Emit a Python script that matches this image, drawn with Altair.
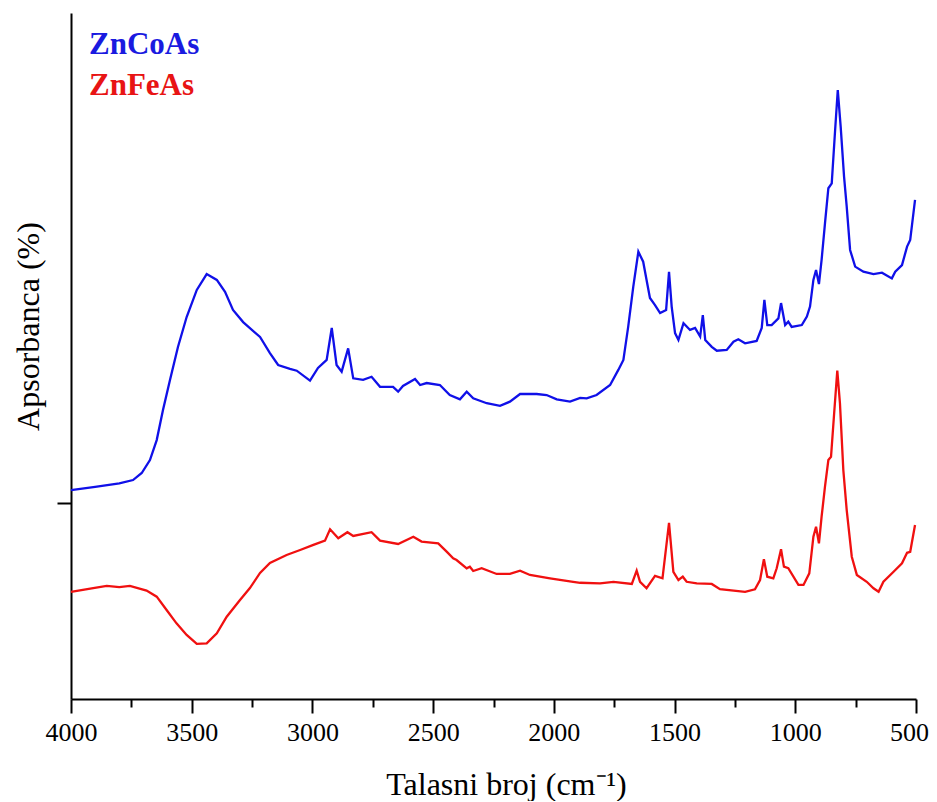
import altair as alt
import pandas as pd

# ZnCoAs spectrum (wavenumber, absorbance in arbitrary units)
wn_co = [4000, 3900, 3800, 3743, 3707, 3673, 3645, 3619, 3590, 3557, 3521, 3479, 3438, 3396,
         3362, 3329, 3287, 3217, 3176, 3142, 3093, 3065, 3010, 2977, 2941, 2920, 2900, 2879,
         2852, 2831, 2790, 2755, 2720, 2666, 2645, 2625, 2575, 2554, 2527, 2472, 2431, 2389,
         2361, 2334, 2278, 2223, 2182, 2140, 2071, 2030, 1988, 1933, 1891, 1864, 1823, 1767,
         1733, 1712, 1692, 1671, 1650, 1630, 1616, 1602, 1581, 1560, 1535, 1523, 1512, 1498,
         1484, 1463, 1436, 1415, 1394, 1383, 1373, 1346, 1325, 1284, 1256, 1236, 1208, 1160,
         1139, 1128, 1116, 1098, 1070, 1059, 1042, 1029, 1015, 973, 952, 939, 925, 914, 902,
         891, 877, 863, 849, 835, 824, 812, 798, 787, 773, 752, 718, 676, 641, 600, 586, 558,
         537, 524, 504]
ab_co = [1.066, 1.082, 1.100, 1.117, 1.153, 1.219, 1.321, 1.474, 1.628, 1.796, 1.949, 2.087,
         2.168, 2.138, 2.077, 1.985, 1.923, 1.847, 1.765, 1.704, 1.684, 1.675, 1.624, 1.689,
         1.730, 1.893, 1.704, 1.670, 1.789, 1.636, 1.628, 1.644, 1.593, 1.592, 1.568, 1.597,
         1.633, 1.602, 1.612, 1.602, 1.551, 1.529, 1.568, 1.534, 1.509, 1.496, 1.517, 1.556,
         1.556, 1.551, 1.529, 1.517, 1.536, 1.534, 1.551, 1.602, 1.679, 1.730, 1.900, 2.104,
         2.282, 2.231, 2.138, 2.046, 2.010, 1.969, 1.985, 2.180, 2.002, 1.867, 1.832, 1.917,
         1.883, 1.893, 1.849, 1.959, 1.832, 1.797, 1.777, 1.781, 1.823, 1.835, 1.815, 1.827,
         1.893, 2.036, 1.908, 1.908, 1.942, 2.020, 1.908, 1.925, 1.898, 1.908, 1.951, 2.002,
         2.138, 2.189, 2.117, 2.240, 2.427, 2.606, 2.631, 2.903, 3.107, 2.920, 2.665, 2.512,
         2.291, 2.206, 2.180, 2.168, 2.175, 2.146, 2.180, 2.214, 2.308, 2.342, 2.546]

# ZnFeAs spectrum
wn_fe = [4000, 3908, 3852, 3800, 3756, 3687, 3645, 3604, 3563, 3521, 3479, 3438, 3396, 3355,
         3300, 3259, 3217, 3176, 3107, 3051, 2996, 2948, 2927, 2893, 2855, 2831, 2755, 2720,
         2645, 2582, 2548, 2479, 2444, 2417, 2403, 2361, 2348, 2334, 2299, 2237, 2182, 2140,
         2099, 2016, 1920, 1891, 1809, 1753, 1677, 1657, 1643, 1616, 1581, 1550, 1523, 1505,
         1484, 1466, 1450, 1408, 1346, 1312, 1208, 1167, 1146, 1130, 1116, 1091, 1077, 1059,
         1047, 1029, 987, 966, 942, 925, 914, 902, 891, 877, 863, 852, 839, 826, 815, 801, 787,
         766, 745, 704, 676, 655, 635, 593, 558, 537, 524, 504]
ab_fe = [0.547, 0.566, 0.577, 0.571, 0.577, 0.553, 0.522, 0.454, 0.386, 0.327, 0.281, 0.284,
         0.335, 0.420, 0.505, 0.566, 0.643, 0.694, 0.735, 0.760, 0.786, 0.808, 0.866, 0.820,
         0.851, 0.832, 0.851, 0.808, 0.791, 0.828, 0.803, 0.794, 0.752, 0.718, 0.709, 0.667,
         0.675, 0.653, 0.667, 0.638, 0.638, 0.655, 0.633, 0.616, 0.598, 0.593, 0.590, 0.598,
         0.587, 0.655, 0.598, 0.565, 0.628, 0.616, 0.899, 0.649, 0.607, 0.624, 0.598, 0.590,
         0.587, 0.560, 0.547, 0.560, 0.607, 0.713, 0.624, 0.616, 0.667, 0.764, 0.675, 0.667,
         0.582, 0.582, 0.641, 0.828, 0.879, 0.794, 0.930, 1.083, 1.219, 1.236, 1.458, 1.675,
         1.509, 1.168, 0.964, 0.726, 0.633, 0.598, 0.565, 0.547, 0.598, 0.649, 0.692, 0.746,
         0.751, 0.888]

series_names = ["ZnCoAs", "ZnFeAs"]
series_colors = ["#1010e8", "#f01010"]
x_ticks = list(range(500, 4001, 250))
y_ticks = [1.0]

df = pd.concat([
    pd.DataFrame({"wn": wn_co, "ab": ab_co, "sample": series_names[0], "i": range(len(wn_co))}),
    pd.DataFrame({"wn": wn_fe, "ab": ab_fe, "sample": series_names[1], "i": range(len(wn_fe))}),
])

FONT = "Liberation Serif"

chart = alt.Chart(df).mark_line(strokeWidth=2.3).encode(
    x=alt.X("wn:Q",
            scale=alt.Scale(domain=[500, 4000], reverse=True, nice=False, zero=False),
            axis=alt.Axis(
                values=x_ticks, format="d", labelFlush=False, labelOverlap=False,
                labelExpr="datum.value % 500 === 0 ? datum.label : ''",
                labelOffset={"condition": {"test": "datum.value === 500", "value": -7}, "value": 0},
                tickSize={"condition": {"test": "datum.value % 500 !== 0", "value": 8}, "value": 14},
                labelPadding=6, labelFontSize=26, labelFont=FONT, labelColor="black",
                title="Talasni broj (cm⁻¹)", titleFont=FONT, titleFontSize=32,
                titleFontWeight="normal", titleColor="black",
                titleX=435, titleY=95, titleBaseline="alphabetic",
                grid=False, domainColor="black", domainWidth=2,
                tickColor="black", tickWidth=2)),
    y=alt.Y("ab:Q",
            scale=alt.Scale(domain=[0, 3.5], nice=False, zero=False),
            axis=alt.Axis(
                values=y_ticks, labels=False, tickSize=14,
                title="Apsorbanca (%)", titleFont=FONT, titleFontSize=32,
                titleFontWeight="normal", titleColor="black",
                titleX=-33, titleY=313, titleBaseline="alphabetic",
                grid=False, domainColor="black", domainWidth=2,
                tickColor="black", tickWidth=2)),
    color=alt.Color("sample:N",
                    scale=alt.Scale(domain=series_names, range=series_colors),
                    legend=alt.Legend(
                        title=None, orient="none", legendX=-13, legendY=16,
                        symbolOpacity=0, symbolSize=0, symbolStrokeWidth=0,
                        labelFont=FONT, labelFontSize=31, labelFontWeight="bold",
                        labelColor={"expr": "datum.label == 'ZnCoAs' ? '#1a1ae0' : '#e81414'"},
                        labelOffset=0, rowPadding=9, padding=0)),
    order="i:Q",
).properties(
    width=845, height=686,
    autosize=alt.AutoSizeParams(type="none"),
    padding={"left": 63, "top": 5, "right": 13, "bottom": 102},
).configure(
    background="white", font=FONT
).configure_axis(
    labelFont=FONT, titleFont=FONT
).configure_view(stroke=None)

chart.save("out.html", embed_options={"renderer": "svg", "actions": False})
